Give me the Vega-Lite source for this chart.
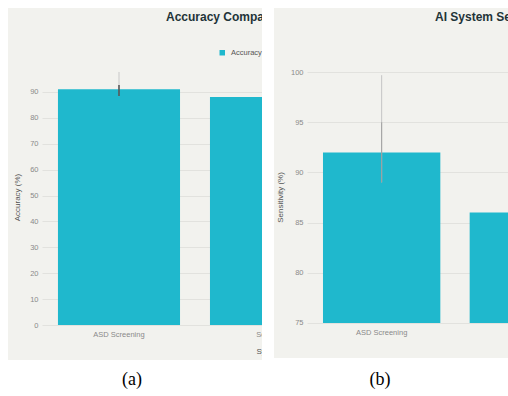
{
  "$schema": "https://vega.github.io/schema/vega-lite/v6.json",
  "background": "white",
  "padding": {"left": 8, "top": 8, "right": 0, "bottom": 0},
  "spacing": 0,
  "config": {
    "view": {"stroke": null},
    "font": "Liberation Sans",
    "axis": {"domain": false, "ticks": false, "tickSize": 0, "labelOverlap": false, "labelFontSize": 7.5, "labelColor": "#8a8a8a", "titleFontSize": 8, "titleFontWeight": "normal", "titleColor": "#555555", "gridColor": "#e2e2de", "gridWidth": 1}
  },
  "vconcat": [
    {
      "hconcat": [
        {
          "width": 254,
          "height": 352,
          "view": {"fill": "#f2f2ee", "stroke": null},
          "title": {"text": "Accuracy Comparison of AI Systems", "anchor": "start", "frame": "group", "dx": 158, "offset": -25, "baseline": "alphabetic", "fontSize": 12, "fontWeight": "bold", "color": "#1f3439"},
          "data": {"values": [
            {"system": "ASD Screening", "metric": "Accuracy", "accuracy": 91, "errLow": 88.4, "errMid": 92.7, "errHigh": 97.7},
            {"system": "Scoliosis", "metric": "Accuracy", "accuracy": 88}
          ]},
          "encoding": {
            "x": {"field": "system", "type": "nominal", "sort": null,
              "scale": {"range": [34, 340], "paddingInner": 0.197, "paddingOuter": 0.105},
              "axis": {"orient": "bottom", "offset": -35, "labelAngle": 0, "labelPadding": 5, "grid": false, "title": "System Type", "titleX": 248, "titleY": 26, "titleAlign": "left", "titleBaseline": "middle"}},
            "y": {"type": "quantitative", "scale": {"domain": [-13.5, 122.4], "nice": false, "zero": false},
              "axis": {"offset": -34, "values": [0, 10, 20, 30, 40, 50, 60, 70, 80, 90], "labelOverlap": false, "labelPadding": 4, "title": "Accuracy (%)", "titleX": -25, "titleY": 189, "titleBaseline": "middle"}}
          },
          "layer": [
            {
              "mark": {"type": "bar", "clip": true},
              "encoding": {
                "y": {"field": "accuracy", "type": "quantitative", "scale": {"domain": [-13.5, 122.4], "nice": false, "zero": false},
                  "axis": {"offset": -34, "values": [0, 10, 20, 30, 40, 50, 60, 70, 80, 90], "labelOverlap": false, "labelPadding": 4, "title": "Accuracy (%)", "titleX": -25, "titleY": 189, "titleBaseline": "middle"}},
                "color": {"field": "metric", "type": "nominal", "scale": {"range": ["#1fb8cd"]},
                  "legend": {"orient": "none", "legendX": 210.5, "legendY": 41, "title": null, "symbolType": "square", "symbolSize": 30, "symbolStrokeWidth": 0, "labelFontSize": 7.5, "labelColor": "#555555", "labelOffset": 5, "padding": 0, "direction": "horizontal"}}
              }
            },
            {
              "mark": {"type": "rule", "color": "#c8c8c8", "strokeWidth": 1},
              "encoding": {
                "y": {"field": "errLow", "type": "quantitative", "axis": {"offset": -34, "values": [0, 10, 20, 30, 40, 50, 60, 70, 80, 90], "labelOverlap": false, "labelPadding": 4, "title": "Accuracy (%)", "titleX": -25, "titleY": 189, "titleBaseline": "middle"}},
                "y2": {"field": "errHigh"}
              }
            },
            {
              "mark": {"type": "rule", "color": "#3c3c3c", "strokeWidth": 1.3},
              "encoding": {
                "y": {"field": "errLow", "type": "quantitative", "axis": {"offset": -34, "values": [0, 10, 20, 30, 40, 50, 60, 70, 80, 90], "labelOverlap": false, "labelPadding": 4, "title": "Accuracy (%)", "titleX": -25, "titleY": 189, "titleBaseline": "middle"}},
                "y2": {"field": "errMid"}
              }
            }
          ]
        },
        {
          "width": 12,
          "height": 352,
          "view": {"fill": "white", "stroke": null},
          "data": {"values": []},
          "mark": "text"
        },
        {
          "width": 234,
          "height": 350,
          "view": {"fill": "#f2f2ee", "stroke": null},
          "title": {"text": "AI System Sensitivity Comparison", "anchor": "start", "frame": "group", "dx": 161, "offset": -25, "baseline": "alphabetic", "fontSize": 12, "fontWeight": "bold", "color": "#1f3439"},
          "data": {"values": [
            {"system": "ASD Screening", "sensitivity": 92, "errLow": 89, "errMid": 95, "errHigh": 99.7},
            {"system": "Scoliosis", "sensitivity": 86}
          ]},
          "encoding": {
            "x": {"field": "system", "type": "nominal", "sort": null,
              "scale": {"range": [33, 329], "paddingInner": 0.2, "paddingOuter": 0.109},
              "axis": {"orient": "bottom", "offset": -35, "labelAngle": 0, "labelPadding": 5, "grid": false, "title": null, "labelExpr": "datum.value == 'ASD Screening' ? datum.label : ''"}}
          },
          "layer": [
            {
              "mark": {"type": "bar", "clip": true, "color": "#1fb8cd"},
              "encoding": {
                "y": {"field": "sensitivity", "type": "quantitative", "scale": {"domain": [71.5, 106.4], "nice": false, "zero": false},
                  "axis": {"offset": -33, "values": [75, 80, 85, 90, 95, 100], "labelPadding": 4, "title": "Sensitivity (%)", "titleX": -27, "titleY": 189, "titleBaseline": "middle"}},
                "y2": {"datum": 75}
              }
            },
            {
              "mark": {"type": "rule", "color": "#c4c4c4", "strokeWidth": 1},
              "encoding": {"y": {"field": "errLow", "type": "quantitative"}, "y2": {"field": "errHigh"}}
            },
            {
              "mark": {"type": "rule", "color": "#8f8f8f", "strokeWidth": 1, "opacity": 0.7},
              "encoding": {"y": {"field": "errLow", "type": "quantitative"}, "y2": {"field": "errMid"}}
            }
          ]
        }
      ],
      "spacing": 0,
      "bounds": "flush"
    },
    {
      "width": 496,
      "height": 36,
      "data": {"values": [{"label": "(a)"}, {"label": "(b)"}]},
      "mark": {"type": "text", "font": "Liberation Serif", "fontSize": 18, "baseline": "middle", "dy": 2, "color": "black"},
      "encoding": {
        "x": {"field": "label", "type": "nominal", "sort": null, "axis": null},
        "text": {"field": "label"}
      }
    }
  ]
}
